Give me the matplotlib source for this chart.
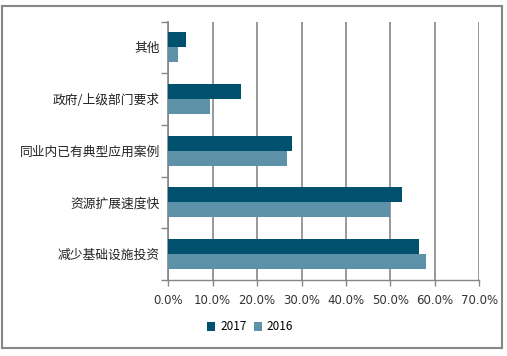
import matplotlib
matplotlib.use("Agg")
import matplotlib.pyplot as plt
import numpy as np
from matplotlib.patches import Rectangle

plt.rcParams['font.family'] = ['Noto Sans CJK SC', 'DejaVu Sans']

categories = ["其他", "政府/上级部门要求", "同业内已有典型应用案例", "资源扩展速度快", "减少基础设施投资"]
v2017 = [4.0, 16.4, 27.8, 52.6, 56.4]
v2016 = [2.2, 9.4, 26.7, 50.0, 58.0]
series_names = ["2017", "2016"]
xticks = [0, 10, 20, 30, 40, 50, 60, 70]

c2017 = "#00516E"
c2016 = "#5D91A7"
grid_c = "#868686"

fig = plt.figure(figsize=(5.07, 3.56), dpi=100)
ax = fig.add_axes([168.3/507, 1-280/356, (479.3-168.3)/507, (280-21.5)/356])

n = len(categories)
y = np.arange(n)
h = 0.29
ax.barh(y - h/2, v2017, height=h, color=c2017, label=series_names[0], zorder=3)
ax.barh(y + h/2, v2016, height=h, color=c2016, label=series_names[1], zorder=3)

ax.set_ylim(n - 0.5, -0.5)
ax.set_xlim(0, 70)
ax.set_xticks(xticks)
ax.set_xticklabels([f"{t:.1f}%" for t in xticks], fontsize=8.5, color="#333333", family=['DejaVu Sans'])
ax.set_yticks(y)
ax.set_yticklabels(categories, fontsize=9.2, color="#222222")
ax.tick_params(axis='y', length=0, pad=6)
ax.set_yticks(np.arange(-0.5, n, 1.0), minor=True)
ax.tick_params(axis='y', which='minor', length=5, color=grid_c, width=1)
ax.tick_params(axis='x', length=4, color=grid_c, width=1, pad=6)

ax.xaxis.grid(True, color=grid_c, linewidth=1.2, zorder=0)
for s in ['top', 'right']:
    ax.spines[s].set_visible(False)
ax.spines['left'].set_color(grid_c)
ax.spines['bottom'].set_color(grid_c)
ax.spines['left'].set_linewidth(1.2)
ax.spines['bottom'].set_linewidth(1.0)

leg = fig.legend(loc='center', bbox_to_anchor=(250/507, 1-327/356), ncol=2, frameon=False,
                 fontsize=8.5, handlelength=0.7, handleheight=0.7, handletextpad=0.4,
                 columnspacing=0.6)

fig.patches.append(Rectangle((2/507, 1-348/356), 500/507, 342/356, transform=fig.transFigure,
                             fill=False, edgecolor=grid_c, linewidth=1.5))

fig.savefig("out.png", dpi=100)
